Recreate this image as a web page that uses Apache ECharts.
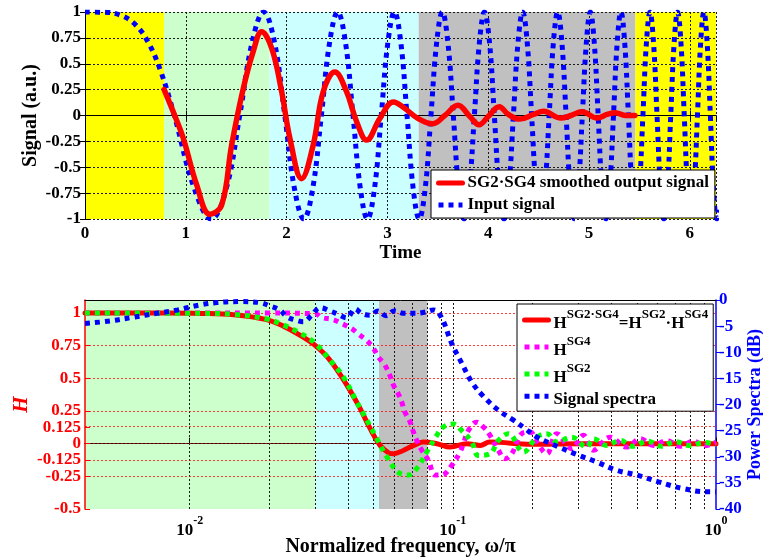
<!DOCTYPE html>
<html>
<head>
<meta charset="utf-8">
<script src="https://cdn.jsdelivr.net/npm/echarts@6/dist/echarts.min.js"></script>
<style>
  html, body { margin: 0; padding: 0; background: #ffffff; }
  #chart { width: 763px; height: 557px; }
</style>
</head>
<body>
<div id="chart"></div>
<script>
// ---------- Time-domain panel ----------
const inputTime = [0, 0.2, 0.35, 0.5, 0.627, 0.75, 0.886, 1.085, 1.253, 1.401, 1.535, 1.658, 1.772, 1.880, 1.982, 2.078,
  2.171, 2.259, 2.345, 2.427, 2.507, 2.584, 2.659, 2.732, 2.802, 2.872, 2.939, 3.005, 3.070, 3.133, 3.195, 3.256,
  3.316, 3.375, 3.432, 3.489, 3.545, 3.600, 3.654, 3.707, 3.760, 3.812, 3.863, 3.913, 3.963, 4.013, 4.061, 4.109,
  4.157, 4.204, 4.250, 4.296, 4.342, 4.387, 4.431, 4.475, 4.519, 4.562, 4.605, 4.647, 4.690, 4.731, 4.773, 4.813,
  4.854, 4.894, 4.934, 4.974, 5.013, 5.052, 5.091, 5.129, 5.168, 5.205, 5.243, 5.280, 5.317, 5.354, 5.391, 5.427,
  5.463, 5.499, 5.535, 5.570, 5.605, 5.640, 5.675, 5.709, 5.743, 5.778, 5.811, 5.845, 5.879, 5.912, 5.945, 5.978,
  6.011, 6.043, 6.076, 6.108, 6.140, 6.172, 6.204, 6.235, 6.267, 6.283];
const inputSignal = [1, 0.997, 0.970, 0.878, 0.707, 0.431, 0, -0.707, -1, -0.707, 0, 0.707, 1, 0.707, 0, -0.707,
  -1, -0.707, 0, 0.707, 1, 0.707, 0, -0.707, -1, -0.707, 0, 0.707, 1, 0.707, 0, -0.707,
  -1, -0.707, 0, 0.707, 1, 0.707, 0, -0.707, -1, -0.707, 0, 0.707, 1, 0.707, 0, -0.707,
  -1, -0.707, 0, 0.707, 1, 0.707, 0, -0.707, -1, -0.707, 0, 0.707, 1, 0.707, 0, -0.707,
  -1, -0.707, 0, 0.707, 1, 0.707, 0, -0.707, -1, -0.707, 0, 0.707, 1, 0.707, 0, -0.707,
  -1, -0.707, 0, 0.707, 1, 0.707, 0, -0.707, -1, -0.707, 0, 0.707, 1, 0.707, 0, -0.707,
  -1, -0.707, 0, 0.707, 1, 0.707, 0, -0.707, -1, -0.91];

const outputTime = [0.785, 0.886, 0.975, 1.108, 1.240, 1.356, 1.455, 1.570, 1.669, 1.752, 1.852, 1.951, 2.033,
  2.149, 2.264, 2.363, 2.479, 2.595, 2.695, 2.794, 2.926, 3.060, 3.157, 3.306, 3.450, 3.570, 3.700, 3.818, 3.910,
  4.000, 4.110, 4.200, 4.310, 4.450, 4.550, 4.720, 4.820, 4.930, 5.080, 5.180, 5.260, 5.360, 5.455];
const outputSignal = [0.25, 0.01, -0.22, -0.67, -0.955, -0.865, -0.285, 0.26, 0.62, 0.81, 0.65, 0.23, -0.22,
  -0.61, -0.285, 0.23, 0.42, 0.23, -0.06, -0.237, -0.027, 0.13, 0.08, -0.03, -0.08, 0.0, 0.10, -0.01, -0.09,
  -0.01, 0.085, 0.01, -0.035, 0.01, 0.04, -0.025, 0.0, 0.037, -0.025, 0.01, 0.027, 0.0, 0.0];

const timeBandEdges = [0, 0.785, 1.83, 3.31, 5.46, 6.26];
const timeBandColors = ['#FFFF00', '#CCFFCC', '#CCFFFF', '#C0C0C0', '#FFFF00'];

// ---------- Frequency-domain panel ----------
const prodFreq = [0.004, 0.008, 0.011, 0.0147, 0.0196, 0.0227, 0.0263, 0.0299, 0.0341, 0.0395, 0.0444, 0.0485,
  0.0529, 0.057, 0.0594, 0.0635, 0.0668, 0.0725, 0.0772, 0.0869, 0.0976, 0.1129, 0.127, 0.138, 0.2, 0.3, 0.5, 1.0];
const prodH = [1.0, 1.0, 0.997, 0.987, 0.95, 0.90, 0.83, 0.754, 0.64, 0.45, 0.27, 0.115,
  -0.013, -0.07, -0.077, -0.06, -0.038, -0.005, 0.012, 0.0, -0.026, 0.0, -0.013, 0.012, -0.005, 0.0, 0.0, 0.0];

const sg4Freq = [0.004, 0.01, 0.02, 0.03, 0.0318, 0.0351, 0.0378, 0.0413, 0.0437, 0.0471, 0.0499, 0.0521, 0.0552,
  0.0577, 0.0594, 0.0621, 0.0639, 0.0658, 0.0688, 0.0708, 0.0729, 0.0762, 0.0807, 0.0856, 0.0894, 0.0934, 0.099,
  0.1065, 0.1096, 0.1145, 0.123, 0.1306, 0.1384, 0.1489, 0.1579, 0.1674, 0.1827, 0.1965, 0.2084, 0.2275, 0.2482,
  0.283, 0.3133, 0.342, 0.3958, 0.4581, 0.5146, 0.58, 0.65, 0.73, 0.82, 0.9, 1.0];
const sg4H = [1.0, 1.0, 1.0, 0.995, 0.966, 0.95, 0.92, 0.88, 0.84, 0.79, 0.73, 0.665, 0.60,
  0.52, 0.45, 0.38, 0.32, 0.24, 0.166, 0.09, 0.025, -0.05, -0.128, -0.24, -0.24, -0.23, -0.167,
  -0.064, 0.0, 0.10, 0.165, 0.128, 0.064, -0.05, -0.115, -0.077, 0.077, 0.09, 0.013, -0.077, 0.077,
  -0.038, 0.064, -0.05, 0.05, -0.026, 0.038, -0.013, 0.025, -0.02, 0.02, -0.015, 0.01];

const sg2Freq = [0.004, 0.011, 0.0147, 0.0196, 0.022, 0.0263, 0.0299, 0.0341, 0.0384, 0.0431, 0.0471, 0.0514,
  0.0561, 0.0621, 0.0677, 0.0729, 0.0796, 0.0869, 0.092, 0.1004, 0.1081, 0.118, 0.125, 0.1384, 0.1489, 0.1625,
  0.1854, 0.2084, 0.2275, 0.2482, 0.283, 0.3228, 0.342, 0.3845, 0.432, 0.48, 0.55, 0.62, 0.7, 0.8, 0.9, 1.0];
const sg2H = [1.0, 0.998, 0.99, 0.955, 0.92, 0.845, 0.77, 0.64, 0.51, 0.32, 0.18, 0.04,
  -0.1, -0.22, -0.24, -0.19, -0.064, 0.064, 0.128, 0.15, 0.10, 0.012, -0.09, -0.077, 0.025, 0.077,
  -0.064, 0.05, 0.077, 0.013, 0.05, -0.026, 0.038, -0.013, 0.025, -0.02, 0.02, -0.02, 0.015, -0.015, 0.01, -0.01];

const specFreq = [0.004, 0.005, 0.0061, 0.0075, 0.009, 0.0109, 0.0127, 0.0155, 0.0185, 0.0202, 0.022, 0.0234,
  0.0251, 0.027, 0.0291, 0.0313, 0.0341, 0.0367, 0.0395, 0.0425, 0.045, 0.0485, 0.0518, 0.0557, 0.0599, 0.0654,
  0.0718, 0.0779, 0.0843, 0.0902, 0.099, 0.1081, 0.118, 0.131, 0.149, 0.17, 0.188, 0.208, 0.252, 0.300, 0.352,
  0.42, 0.50, 0.604, 0.752, 0.923, 1.0];
const specDb = [-4.5, -4.0, -3.3, -2.55, -1.9, -0.96, -0.5, -0.3, -0.5, -1.15, -1.9, -3.2,
  -3.8, -4.15, -2.9, -1.47, -2.1, -2.75, -3.4, -1.7, -2.55, -2.9, -2.1, -3.0, -2.1, -2.55,
  -2.55, -2.35, -1.9, -3.2, -8.3, -12.1, -15.7, -18.5, -21.1, -23.0, -24.6, -26.2, -28.1, -29.7, -31.0,
  -32.6, -33.5, -34.8, -36.1, -36.7, -36.7];

const freqBandEdges = [0.004, 0.03, 0.0524, 0.08];
const freqBandColors = ['#CCFFCC', '#CCFFFF', '#C0C0C0'];

const hTicks = [-0.5, -0.25, -0.125, 0, 0.125, 0.25, 0.5, 0.75, 1];
const hGridValues = [-0.25, -0.125, 0, 0.125, 0.25, 0.5, 0.75, 1];
const freqGridValues = [0.005, 0.006, 0.007, 0.008, 0.009, 0.01, 0.02, 0.03, 0.04, 0.05, 0.06, 0.07, 0.08, 0.09,
  0.1, 0.2, 0.3, 0.4, 0.5, 0.6, 0.7, 0.8, 0.9];

// ---------- helpers ----------
const FONT = 'Liberation Serif';
const zip = (xs, ys) => xs.map((x, i) => [x, ys[i]]);
const bands = (edges, colors) => colors.map((c, i) => [
  { xAxis: edges[i], itemStyle: { color: c } },
  { xAxis: edges[i + 1] }
]);
const gridDots = { color: '#1a1a1a', type: [2, 2], width: 1 };

const labelFont = { fontFamily: FONT, fontWeight: 'bold', fontSize: 17, color: '#000' };

const legendNames = {
  'Hprod': '{h|H}{s|SG2·SG4}{h|=H}{s|SG2}{h|·H}{s|SG4}',
  'Hsg4': '{h|H}{s|SG4}',
  'Hsg2': '{h|H}{s|SG2}',
  'Signal spectra': '{h|Signal spectra}'
};

const chart = echarts.init(document.getElementById('chart'), null, { renderer: 'canvas' });

chart.setOption({
  animation: false,
  backgroundColor: '#ffffff',
  grid: [
    { left: 85, right: 47, top: 12, height: 207, outerBoundsMode: 'none', containLabel: false },
    { left: 85, right: 47, top: 300, height: 209, outerBoundsMode: 'none', containLabel: false }
  ],
  xAxis: [
    {
      gridIndex: 0, type: 'value', min: 0, max: 6.26, interval: 1, z: 3,
      name: 'Time', nameLocation: 'middle', nameGap: 25, nameMoveOverlap: false,
      nameTextStyle: { fontFamily: FONT, fontWeight: 'bold', fontSize: 19, color: '#000' },
      axisLine: { lineStyle: { color: '#000', width: 1 } },
      axisTick: { inside: true, length: 5, lineStyle: { color: '#000' } },
      axisLabel: Object.assign({ margin: 6, showMaxLabel: false, hideOverlap: false,
        formatter: v => (Math.abs(v - Math.round(v)) < 1e-9 ? String(Math.round(v)) : '') }, labelFont),
      splitLine: { show: true, lineStyle: gridDots }
    },
    {
      gridIndex: 0, type: 'value', position: 'top', min: 0, max: 6.26, interval: 1, z: 3,
      axisLine: { lineStyle: { color: '#000', width: 1 } },
      axisTick: { inside: true, length: 5, lineStyle: { color: '#000' } },
      axisLabel: { show: false }, splitLine: { show: false }
    },
    {
      gridIndex: 1, type: 'log', logBase: 10, min: 0.004, max: 1, z: 3,
      name: 'Normalized frequency, ω/π', nameLocation: 'middle', nameGap: 28, nameMoveOverlap: false,
      nameTextStyle: { fontFamily: FONT, fontWeight: 'bold', fontSize: 20, color: '#000' },
      axisLine: { lineStyle: { color: '#000', width: 1 } },
      axisTick: { inside: true, length: 6, lineStyle: { color: '#000' } },
      axisLabel: {
        margin: 6, showMinLabel: false,
        formatter: v => {
          const e = Math.log10(v);
          const r = Math.round(e);
          return Math.abs(e - r) < 1e-6 ? '{b|10}{e|' + r + '}' : '';
        },
        rich: {
          b: { fontFamily: FONT, fontWeight: 'bold', fontSize: 17, color: '#000', verticalAlign: 'bottom', lineHeight: 24 },
          e: { fontFamily: FONT, fontWeight: 'bold', fontSize: 12, color: '#000', verticalAlign: 'top', lineHeight: 24 }
        }
      },
      splitLine: { show: false }
    },
    {
      gridIndex: 1, type: 'log', logBase: 10, min: 0.004, max: 1, position: 'top', z: 3,
      axisLine: { lineStyle: { color: '#000', width: 1 } },
      axisTick: { show: false }, axisLabel: { show: false }, splitLine: { show: false }
    }
  ],
  yAxis: [
    {
      gridIndex: 0, type: 'value', min: -1, max: 1, interval: 0.25, z: 3,
      name: 'Signal (a.u.)', nameLocation: 'middle', nameGap: 44, nameRotate: 90, nameMoveOverlap: false,
      nameTextStyle: { fontFamily: FONT, fontWeight: 'bold', fontSize: 20, color: '#000' },
      axisLine: { show: true, lineStyle: { color: '#000', width: 1 } },
      axisTick: { show: true, inside: true, length: 5, lineStyle: { color: '#000' } },
      axisLabel: Object.assign({ margin: 4, hideOverlap: false }, labelFont),
      splitLine: { show: true, lineStyle: gridDots }
    },
    {
      gridIndex: 0, type: 'value', position: 'right', min: -1, max: 1, interval: 0.25, z: 3,
      axisLine: { show: true, lineStyle: { color: '#000', width: 1 } },
      axisTick: { show: true, inside: true, length: 5, lineStyle: { color: '#000' } },
      axisLabel: { show: false }, splitLine: { show: false }
    },
    {
      gridIndex: 1, type: 'value', min: -0.5, max: 1.1, interval: 0.125, z: 3,
      name: 'H', nameLocation: 'middle', nameGap: 53, nameRotate: 90, nameMoveOverlap: false,
      nameTextStyle: { fontFamily: FONT, fontWeight: 'bold', fontStyle: 'italic', fontSize: 21, color: '#FF0000' },
      axisLine: { show: true, lineStyle: { color: '#FF0000', width: 1.5 } },
      axisTick: { show: true, inside: true, length: 5, customValues: hTicks, lineStyle: { color: '#FF0000' } },
      axisLabel: Object.assign({ margin: 4, hideOverlap: false, customValues: hTicks, formatter: v => String(v) },
        labelFont, { color: '#FF0000' }),
      splitLine: { show: false }
    },
    {
      gridIndex: 1, type: 'value', position: 'right', min: -40, max: 0, interval: 5, z: 3,
      name: 'Power Spectra (dB)', nameLocation: 'middle', nameGap: 30, nameRotate: 90, nameMoveOverlap: false,
      nameTextStyle: { fontFamily: FONT, fontWeight: 'bold', fontSize: 18, color: '#0000FF' },
      axisLine: { show: true, lineStyle: { color: '#0000FF', width: 1.5 } },
      axisTick: { show: true, inside: false, length: 4, lineStyle: { color: '#0000FF' } },
      axisLabel: Object.assign({ margin: 3, hideOverlap: false }, labelFont, { color: '#0000FF' }),
      splitLine: { show: false }
    }
  ],
  legend: [
    {
      data: ['SG2·SG4 smoothed output signal', 'Input signal'],
      orient: 'vertical', left: 431, top: 170, z: 10,
      backgroundColor: '#ffffff', borderColor: '#000', borderWidth: 1,
      padding: [3, 6, 3, 5], itemGap: 2, itemWidth: 24, itemHeight: 16,
      lineStyle: { width: 5 },
      itemStyle: { opacity: 0 },
      textStyle: { fontFamily: FONT, fontWeight: 'bold', fontSize: 17, color: '#000', lineHeight: 20 }
    },
    {
      data: ['Hprod', 'Hsg4', 'Hsg2', 'Signal spectra'],
      orient: 'vertical', left: 517, top: 304, z: 10,
      backgroundColor: '#ffffff', borderColor: '#000', borderWidth: 1,
      padding: [4, 5, 3, 5], itemGap: 3, itemWidth: 24, itemHeight: 18,
      lineStyle: { width: 5 },
      itemStyle: { opacity: 0 },
      formatter: name => legendNames[name] || name,
      textStyle: {
        fontFamily: FONT, fontWeight: 'bold', fontSize: 17, color: '#000',
        rich: {
          h: { fontFamily: FONT, fontWeight: 'bold', fontSize: 17, color: '#000', verticalAlign: 'bottom', lineHeight: 24 },
          s: { fontFamily: FONT, fontWeight: 'bold', fontSize: 13, color: '#000', verticalAlign: 'top', lineHeight: 24 }
        }
      }
    }
  ],
  series: [
    // shaded bands, time panel
    {
      type: 'line', xAxisIndex: 0, yAxisIndex: 0, data: [], z: 1, silent: true,
      markArea: { silent: true, itemStyle: { opacity: 1 }, data: bands(timeBandEdges, timeBandColors) }
    },
    {
      name: 'Input signal', type: 'line', xAxisIndex: 0, yAxisIndex: 0, z: 5,
      data: zip(inputTime, inputSignal), smooth: 0.4, symbol: 'none', showSymbol: false,
      lineStyle: { color: '#0000FF', width: 5, type: [5, 5], cap: 'butt' },
      itemStyle: { color: '#0000FF' }
    },
    {
      name: 'SG2·SG4 smoothed output signal', type: 'line', xAxisIndex: 0, yAxisIndex: 0, z: 6,
      data: zip(outputTime, outputSignal), smooth: 0.4, symbol: 'none', showSymbol: false,
      lineStyle: { color: '#FF0000', width: 5.5, cap: 'round', join: 'round' },
      itemStyle: { color: '#FF0000' }
    },
    // shaded bands, frequency panel
    {
      type: 'line', xAxisIndex: 2, yAxisIndex: 2, data: [], z: 1, silent: true,
      markArea: { silent: true, itemStyle: { opacity: 1 }, data: bands(freqBandEdges, freqBandColors) }
    },
    // grid lines, frequency panel
    {
      type: 'line', xAxisIndex: 2, yAxisIndex: 2, data: [], z: 2, silent: true,
      markLine: {
        silent: true, symbol: 'none', label: { show: false },
        data: freqGridValues.map(f => ({ xAxis: f, lineStyle: gridDots }))
          .concat(hGridValues.map(h => ({ yAxis: h, lineStyle: { color: 'rgba(255,0,0,0.75)', type: [2, 2], width: 1 } })))
      }
    },
    {
      name: 'Hprod', type: 'line', xAxisIndex: 2, yAxisIndex: 2, z: 5,
      data: zip(prodFreq, prodH), smooth: 0.4, symbol: 'none', showSymbol: false,
      lineStyle: { color: '#FF0000', width: 5, cap: 'round', join: 'round' },
      itemStyle: { color: '#FF0000' }
    },
    {
      name: 'Hsg4', type: 'line', xAxisIndex: 2, yAxisIndex: 2, z: 6,
      data: zip(sg4Freq, sg4H), smooth: 0.4, symbol: 'none', showSymbol: false,
      lineStyle: { color: '#FF00FF', width: 5, type: [5, 5], cap: 'butt' },
      itemStyle: { color: '#FF00FF' }
    },
    {
      name: 'Hsg2', type: 'line', xAxisIndex: 2, yAxisIndex: 2, z: 7,
      data: zip(sg2Freq, sg2H), smooth: 0.4, symbol: 'none', showSymbol: false,
      lineStyle: { color: '#00FF00', width: 5, type: [5, 5], cap: 'butt' },
      itemStyle: { color: '#00FF00' }
    },
    {
      name: 'Signal spectra', type: 'line', xAxisIndex: 2, yAxisIndex: 3, z: 8,
      data: zip(specFreq, specDb), smooth: 0.4, symbol: 'none', showSymbol: false,
      lineStyle: { color: '#0000FF', width: 5, type: [5, 5], cap: 'butt' },
      itemStyle: { color: '#0000FF' }
    }
  ]
});
</script>
</body>
</html>
